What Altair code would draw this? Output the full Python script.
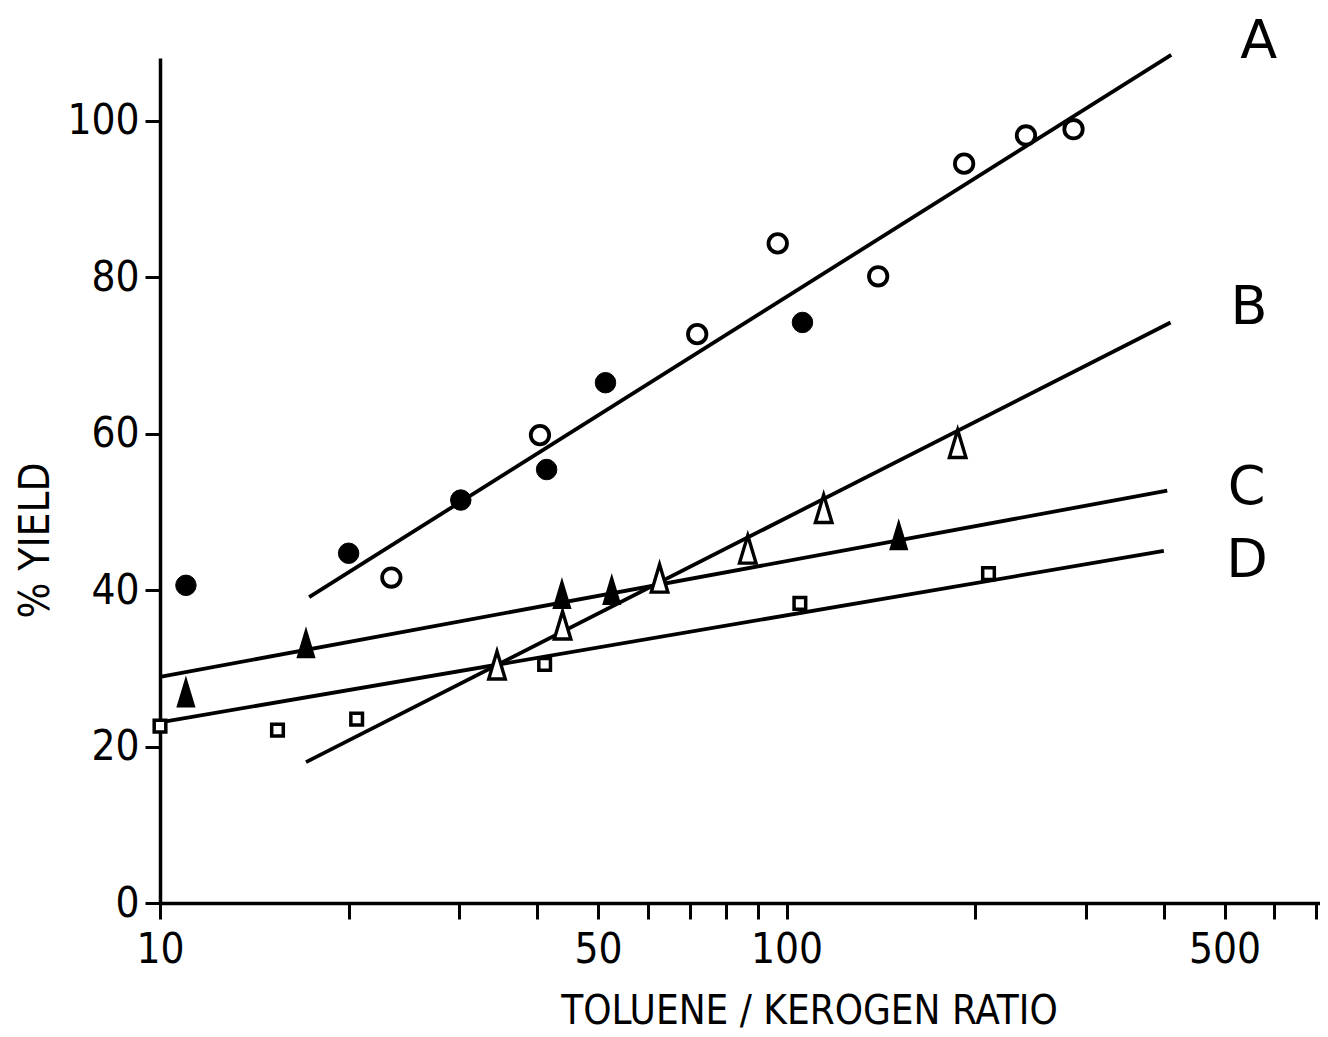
import altair as alt
import pandas as pd

# ---- data ----
a_open_x = [23.4, 40.4, 72.0, 96.8, 140, 192, 241, 287]
a_open_y = [41.6, 59.8, 72.7, 84.3, 80.1, 94.5, 98.1, 98.9]
a_fill_x = [11.0, 20.0, 30.2, 41.4, 51.4, 106]
a_fill_y = [40.6, 44.7, 51.5, 55.4, 66.5, 74.2]
b_tri_x = [34.5, 43.9, 62.7, 86.7, 114.6, 187.5]
b_tri_y = [30.4, 35.5, 41.5, 45.2, 50.4, 58.7]
c_tri_x = [11.0, 17.1, 43.8, 52.6, 151]
c_tri_y = [26.9, 33.2, 39.5, 40.0, 47.0]
d_sq_x = [10.0, 15.4, 20.6, 41.1, 105, 210]
d_sq_y = [22.6, 22.1, 23.5, 30.5, 38.3, 42.1]

# fitted lines (end points)
line_names = ["A", "A", "B", "B", "C", "C", "D", "D"]
line_x = [17.3, 411, 17.1, 410, 10, 405, 10, 400]
line_y = [39.1, 108.4, 18.0, 74.2, 28.9, 52.7, 23.1, 45.0]

# curve labels
lab_text = ["A", "B", "C", "D"]
lab_x = [567, 547, 542, 543]
lab_y = [110.0, 76.1, 53.1, 43.7]

x_ticks = [10, 20, 30, 40, 50, 60, 70, 80, 90, 100, 200, 300, 400, 500, 600, 700]
x_labels = [10, 50, 100, 500]
y_ticks = [0, 20, 40, 60, 80, 100]

FONT = "Liberation Sans Narrow, DejaVu Sans Condensed, Liberation Sans, sans-serif"

xscale = alt.Scale(type="log", domain=[10, 710], nice=False)
yscale = alt.Scale(domain=[0, 108], nice=False)

xaxis = alt.Axis(
    values=x_ticks, format="d",
    labelExpr="indexof([" + ",".join(str(v) for v in x_labels) + "], datum.value) >= 0 ? datum.label : ''",
    grid=False, tickSize=16, tickWidth=3, domainWidth=3.5, domainColor="black", tickColor="black",
    labelFont=FONT, labelFontSize=42, labelColor="black", labelPadding=10, labelFlush=False,
    labelOverlap=False,
    titleFont=FONT, titleFontSize=40, titleFontWeight="normal", titleColor="black",
    titleX=649, titleY=108, titleBaseline="middle", titleAlign="center",
)
yaxis = alt.Axis(
    values=y_ticks, grid=False, tickSize=15, tickWidth=3, domainWidth=3.5, domainColor="black",
    tickColor="black", labelFont=FONT, labelFontSize=42, labelColor="black", labelPadding=6,
    titleFont=FONT, titleFontSize=42, titleFontWeight="normal", titleColor="black",
    titleX=-125, titleY=482, titleAngle=-90, titleBaseline="middle", titleAlign="center",
)

XT = "TOLUENE / KEROGEN RATIO"
YT = "% YIELD"


def enc(df_chart):
    return df_chart.encode(
        x=alt.X("x:Q", scale=xscale, axis=xaxis, title=XT),
        y=alt.Y("y:Q", scale=yscale, axis=yaxis, title=YT),
    )


def pts(xs, ys):
    return pd.DataFrame({"x": xs, "y": ys})


lines_df = pd.DataFrame({"name": line_names, "x": line_x, "y": line_y})
lines = alt.Chart(lines_df).mark_line(color="black", strokeWidth=3.8, clip=False).encode(
    x=alt.X("x:Q", scale=xscale, axis=xaxis, title=XT),
    y=alt.Y("y:Q", scale=yscale, axis=yaxis, title=YT),
    detail="name:N",
)

tri_path = "M0,-1L0.6,1L-0.6,1Z"

a_open = enc(alt.Chart(pts(a_open_x, a_open_y)).mark_point(
    shape="circle", size=340, filled=True, fill="white", stroke="black", strokeWidth=3.8, opacity=1))
a_fill = enc(alt.Chart(pts(a_fill_x, a_fill_y)).mark_point(
    shape="circle", size=420, filled=True, fill="black", stroke="black", strokeWidth=1, opacity=1))
b_tri = enc(alt.Chart(pts(b_tri_x, b_tri_y)).mark_point(
    shape=tri_path, size=760, filled=True, fill="white", stroke="black", strokeWidth=3.4, opacity=1))
c_tri = enc(alt.Chart(pts(c_tri_x, c_tri_y)).mark_point(
    shape=tri_path, size=820, filled=True, fill="black", stroke="black", strokeWidth=1.5, opacity=1))
d_sq = enc(alt.Chart(pts(d_sq_x, d_sq_y)).mark_point(
    shape="square", size=135, filled=True, fill="white", stroke="black", strokeWidth=3.5, opacity=1))

labels = alt.Chart(pd.DataFrame({"t": lab_text, "x": lab_x, "y": lab_y})).mark_text(
    font="DejaVu Sans, sans-serif", fontSize=54, color="black", align="center", baseline="middle"
).encode(
    x=alt.X("x:Q", scale=xscale, axis=xaxis, title=XT),
    y=alt.Y("y:Q", scale=yscale, axis=yaxis, title=YT),
    text="t:N",
)

chart = alt.layer(lines, a_open, a_fill, b_tri, c_tri, d_sq, labels).properties(
    width=1160, height=845,
    autosize=alt.AutoSizeParams(type="none"),
    padding={"left": 152, "top": 50, "right": 0, "bottom": 132},
).configure_view(strokeWidth=0, strokeOpacity=0, stroke=None).configure(
    background="white", style={"cell": {"stroke": "transparent", "strokeWidth": 0}}
)

chart.save("out.html", embed_options={"renderer": "svg", "actions": False})
